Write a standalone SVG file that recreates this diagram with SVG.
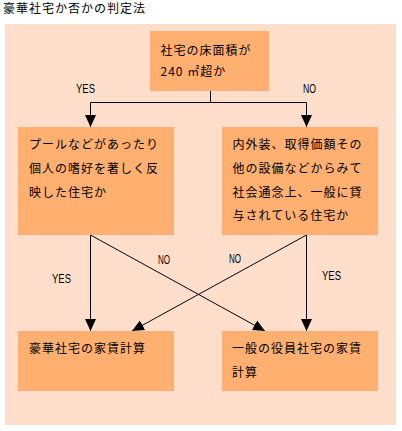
<svg xmlns="http://www.w3.org/2000/svg" width="402" height="431" viewBox="0 0 402 431">
<style>
.jp{font-family:"Noto Sans CJK JP","Noto Sans CJK SC",sans-serif;font-size:12px;letter-spacing:1px;fill:#000}
.lb{font-family:"Liberation Sans","DejaVu Sans",sans-serif;font-size:12px;fill:#000}
.box{fill:#FFB070}
.ln{fill:none;stroke:#000;stroke-width:1}
</style>
<defs>
<marker id="ah" markerUnits="userSpaceOnUse" markerWidth="12" markerHeight="12" viewBox="0 0 12 12" refX="12" refY="6" orient="auto">
<path d="M0,0.5 L12,6 L0,11.5 z" fill="#000"/>
</marker>
</defs>
<rect width="402" height="431" fill="#fff"/>
<text class="jp" x="3" y="12.5">豪華社宅か否かの判定法</text>
<rect x="5" y="24" width="391" height="401" fill="#FFDFCC"/>
<g id="connectors">
<path class="ln" d="M210.5,91 V102.5 H90.5 V127" marker-end="url(#ah)"/>
<path class="ln" d="M210.5,102.5 H306.5 V127" marker-end="url(#ah)"/>
<path class="ln" d="M90.5,235 V331" marker-end="url(#ah)"/>
<path class="ln" d="M90.5,235 L265,331" marker-end="url(#ah)"/>
<path class="ln" d="M306.5,235 L132,331" marker-end="url(#ah)"/>
<path class="ln" d="M306.5,235 V331" marker-end="url(#ah)"/>
<text class="lb" x="76" y="92.5" textLength="19" lengthAdjust="spacingAndGlyphs">YES</text>
<text class="lb" x="303" y="92.5" textLength="13" lengthAdjust="spacingAndGlyphs">NO</text>
<text class="lb" x="52" y="282.5" textLength="19" lengthAdjust="spacingAndGlyphs">YES</text>
<text class="lb" x="158" y="264" textLength="12" lengthAdjust="spacingAndGlyphs">NO</text>
<text class="lb" x="229" y="263" textLength="12" lengthAdjust="spacingAndGlyphs">NO</text>
<text class="lb" x="322" y="280" textLength="19" lengthAdjust="spacingAndGlyphs">YES</text>
</g>
<g id="q1">
<rect class="box" x="150" y="31" width="119" height="60"/>
<text class="jp" x="160.5" y="55">社宅の床面積が</text>
<text class="jp" x="160.5" y="75.5">240 ㎡超か</text>
</g>
<g id="q2">
<rect class="box" x="18" y="127" width="156" height="108"/>
<text class="jp" x="29" y="149">プールなどがあったり</text>
<text class="jp" x="29" y="173">個人の嗜好を著しく反</text>
<text class="jp" x="29" y="196.5">映した住宅か</text>
</g>
<g id="q3">
<rect class="box" x="222" y="127" width="156" height="108"/>
<text class="jp" x="232.5" y="149">内外装、取得価額その</text>
<text class="jp" x="232.5" y="173">他の設備などからみて</text>
<text class="jp" x="232.5" y="196.5">社会通念上、一般に貸</text>
<text class="jp" x="232.5" y="220">与されている住宅か</text>
</g>
<g id="r1">
<rect class="box" x="18" y="331" width="156" height="60"/>
<text class="jp" x="29" y="353">豪華社宅の家賃計算</text>
</g>
<g id="r2">
<rect class="box" x="222" y="331" width="156" height="60"/>
<text class="jp" x="232" y="353">一般の役員社宅の家賃</text>
<text class="jp" x="232" y="377">計算</text>
</g>
</svg>
